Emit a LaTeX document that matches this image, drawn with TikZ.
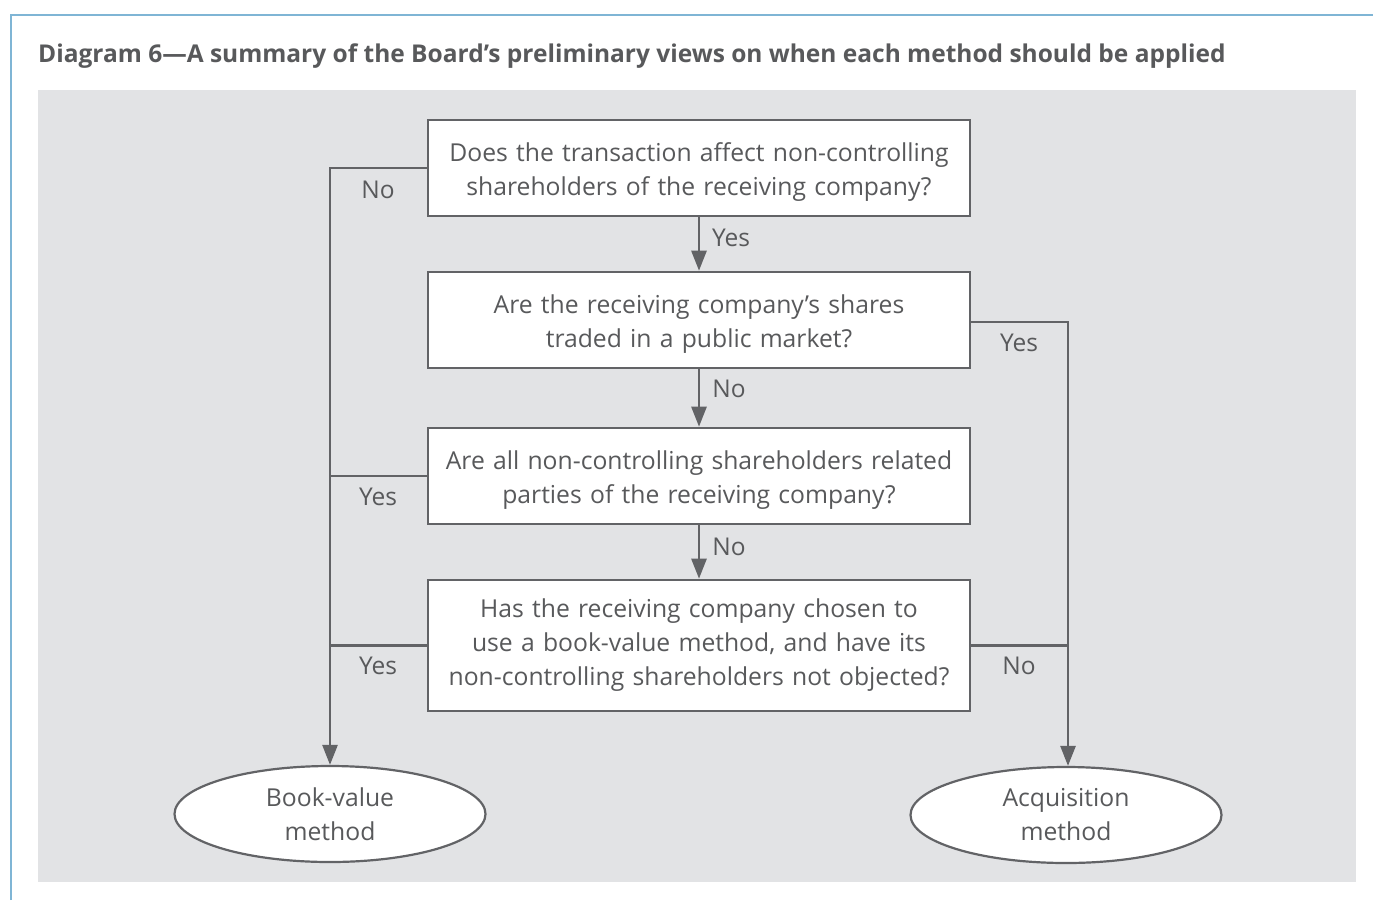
\documentclass[tikz,border=0pt]{standalone}
\usepackage{fontspec}
\setmainfont{Open Sans}
\usetikzlibrary{arrows.meta,shapes.geometric}
\definecolor{txt}{HTML}{58595B}
\definecolor{ln}{HTML}{626366}
\definecolor{panel}{HTML}{E2E3E5}
\definecolor{frame}{HTML}{7FB5D5}
\tikzset{
  qbox/.style={draw=ln,line width=2.6pt,fill=white,minimum width=542pt,text width=530pt,align=center,inner sep=0pt,font=\fontsize{24.7}{34}\selectfont,text=txt},
  twoline/.style={text height=27.5pt},
  oval/.style={ellipse,draw=ln,line width=2.2pt,fill=white,minimum width=311pt,minimum height=96pt,align=center,inner sep=0pt,font=\fontsize{24.7}{34}\selectfont,text=txt},
  conn/.style={draw=ln,line width=2.6pt},
  arr/.style={conn,-{Triangle[length=20pt,width=15pt]}},
  lbl/.style={font=\fontsize{24.5}{30}\selectfont,text=txt,inner sep=0pt}
}
\begin{document}
\begin{tikzpicture}[x=1pt,y=-1pt]
\useasboundingbox (0,0) rectangle (1373,900);
\fill[white] (0,0) rectangle (1373,900);
\draw[frame,line width=2.5pt] (11,900) -- (11,15) -- (1373,15);
\fill[panel] (38,90) rectangle (1356,882);
\node[anchor=base west,inner sep=0pt,text=txt,font=\fontsize{24.5}{30}\selectfont\bfseries] (title) at (38,62) {Diagram 6—A summary of the Board’s preliminary views on when each method should be applied};

\node[qbox,twoline,minimum height=96pt] (q1) at (699,168) {Does the transaction affect non-controlling\\shareholders of the receiving company?};
\node[qbox,twoline,minimum height=96pt] (q2) at (699,320) {Are the receiving company’s shares\\traded in a public market?};
\node[qbox,twoline,minimum height=96pt] (q3) at (699,476) {Are all non-controlling shareholders related\\parties of the receiving company?};
\node[qbox,minimum height=131pt] (q4) at (699,645.5) {Has the receiving company chosen to\\use a book-value method, and have its\\non-controlling shareholders not objected?};

\node[oval] (bv) at (330,814) {Book-value\\method};
\node[oval] (aq) at (1066,815) {Acquisition\\method};

\draw[arr] (q1.south) -- (q2.north);
\draw[arr] (q2.south) -- (q3.north);
\draw[arr] (q3.south) -- (q4.north);

\coordinate (lt) at (330,168);
\coordinate (rt) at (1068,322);
\draw[arr] (q1.west) -- (lt) -- (bv.north);
\draw[conn] (q3.west) -- (q3.west -| lt);
\draw[conn] (q4.west) -- (q4.west -| lt);
\draw[arr] (q2.east |- rt) -- (rt) -- (aq.north -| rt);
\draw[conn] (q4.east) -- (q4.east -| rt);

\node[lbl] (l1) at (378,190) {No};
\node[lbl] (l2) at (731,238) {Yes};
\node[lbl] (l3) at (1019,343) {Yes};
\node[lbl] (l4) at (729,389) {No};
\node[lbl] (l5) at (378,497) {Yes};
\node[lbl] (l6) at (729,547) {No};
\node[lbl] (l7) at (378,666) {Yes};
\node[lbl] (l8) at (1019,666) {No};
\end{tikzpicture}
\end{document}
